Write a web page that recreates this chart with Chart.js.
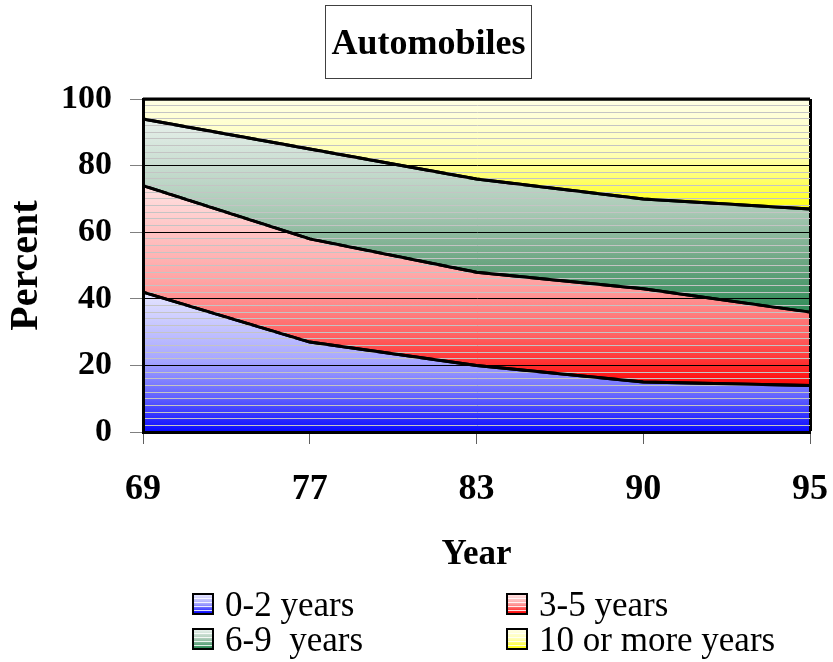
<!DOCTYPE html>
<html>
<head>
<meta charset="utf-8">
<script src="https://cdn.jsdelivr.net/npm/chart.js@4"></script>
<style>
  html, body { margin: 0; padding: 0; background: #fff; }
  #wrap { position: relative; width: 833px; height: 662px; overflow: hidden; }
  #c { position: absolute; left: 0; top: 0; }
  .title { position: absolute; left: 325px; top: 5px; width: 207px; height: 74px; box-sizing: border-box;
           border: 1px solid #404040; display: flex; align-items: center; justify-content: center;
           font: bold 36px "Liberation Serif", "Times New Roman", serif; color: #000; }
  .lg { position: absolute; font: 35px/35px "Liberation Serif", "Times New Roman", serif; color: #000; white-space: pre; }
  .sw { position: absolute; width: 22px; height: 22px; box-sizing: border-box; border: 2px solid #000; }
</style>
</head>
<body>
<div id="wrap">
  <canvas id="c" width="833" height="662"></canvas>
  <div class="title">Automobiles</div>
  <div id="legend"></div>
</div>
<script>
// ---- data ----
const years = ['69', '77', '83', '90', '95'];
const age0to2 = [42, 27, 20, 15, 14];
const age3to5 = [32, 31, 28, 28, 22];
const age6to9 = [20, 27, 28, 27, 31];
const age10plus = [6, 15, 24, 30, 33];
const seriesNames = ['0-2 years', '3-5 years', '6-9  years', '10 or more years'];
const yTickLabels = [0, 20, 40, 60, 80, 100];

// ---- styles ----
const series = [age0to2, age3to5, age6to9, age10plus];
const gradStops = [
  [[0, '#e6e6ff'], [0.5, '#a4a4ff'], [0.75, '#6262ff'], [1, '#0808ff']],
  [[0, '#ffe2e2'], [0.5, '#ffa0a0'], [0.75, '#ff6262'], [1, '#ff0808']],
  [[0, '#e8f1ec'], [0.47, '#aacab6'], [0.74, '#6ca682'], [1, '#2e8b57']],
  [[0, '#ffffe6'], [0.5, '#ffffb4'], [0.75, '#ffff66'], [1, '#ffff10']]
];

function cumulative(upto) {
  return years.map((_, i) => {
    let s = 0;
    for (let k = 0; k <= upto; k++) s += series[k][i];
    return s;
  });
}

function bandGradient(context, idx) {
  const chart = context.chart;
  const area = chart.chartArea;
  const stops = gradStops[idx];
  if (!area) return stops[2][1];
  const yScale = chart.scales.y;
  const topVal = Math.max(...cumulative(idx));
  const botVal = idx === 0 ? 0 : Math.min(...cumulative(idx - 1));
  const y0 = yScale.getPixelForValue(topVal);
  const y1 = yScale.getPixelForValue(botVal);
  const g = chart.ctx.createLinearGradient(0, y0, 0, y1);
  stops.forEach(([p, c]) => g.addColorStop(p, c));
  return g;
}

const datasets = series.map((vals, idx) => ({
  label: seriesNames[idx],
  data: vals,
  fill: idx === 0 ? 'origin' : '-1',
  backgroundColor: (ctx) => bandGradient(ctx, idx),
  borderColor: '#000',
  borderWidth: 3,
  pointRadius: 0,
  pointHoverRadius: 0,
  tension: 0
}));

const boldSerif = (size) => ({ family: '"Liberation Serif", "Times New Roman", serif', size: size, weight: 'bold' });
const isMajor = (c) => c.tick && yTickLabels.includes(c.tick.value);

// redraw the series boundary lines on top of the (front) grid
const linesOnTop = {
  id: 'linesOnTop',
  afterDraw(chart) {
    const ctx = chart.ctx;
    const a = chart.chartArea;
    ctx.save();
    ctx.beginPath();
    ctx.rect(a.left - 2, a.top - 2, a.right - a.left + 4, a.bottom - a.top + 4);
    ctx.clip();
    chart.data.datasets.forEach((_, i) => {
      const meta = chart.getDatasetMeta(i);
      if (meta && meta.dataset) meta.dataset.draw(ctx, a);
    });
    ctx.restore();
  }
};

new Chart(document.getElementById('c'), {
  type: 'line',
  data: { labels: years, datasets: datasets },
  plugins: [linesOnTop],
  options: {
    responsive: false,
    animation: false,
    layout: { padding: { top: 99, right: 23, left: 0, bottom: 0 } },
    plugins: { legend: { display: false }, tooltip: { enabled: false }, title: { display: false } },
    scales: {
      x: {
        type: 'category',
        offset: false,
        grid: {
          z: 1,
          offset: false,
          color: (c) => c.index === years.length - 1 ? '#000' : 'rgba(0,0,0,0)',
          lineWidth: (c) => c.index === years.length - 1 ? 3 : 1,
          tickLength: 12,
          tickColor: '#606060',
          tickWidth: 1
        },
        border: { color: '#000', width: 3, z: 2 },
        ticks: { padding: 24, color: '#000', font: boldSerif(36), maxRotation: 0, autoSkip: false },
        title: { display: true, text: 'Year', color: '#000', font: boldSerif(35), padding: { top: 0, bottom: 86 } },
        afterFit: (s) => { s.height = 230; s.paddingLeft = 0; s.paddingRight = 0; }
      },
      y: {
        stacked: true,
        min: 0,
        max: 100,
        ticks: {
          stepSize: 2,
          autoSkip: false,
          padding: 18,
          color: '#000',
          font: boldSerif(34),
          callback: (v) => yTickLabels.includes(v) ? String(v) : ''
        },
        grid: {
          z: 1,
          color: (c) => isMajor(c) ? '#000' : '#c4c4c4',
          lineWidth: 1,
          tickLength: 13,
          tickColor: (c) => isMajor(c) ? '#808080' : 'rgba(0,0,0,0)',
          tickWidth: 1
        },
        border: { color: '#000', width: 3, z: 2 },
        title: { display: true, text: 'Percent', color: '#000', font: boldSerif(40), padding: { top: 3, bottom: 0 } },
        afterFit: (s) => { s.width = 143; s.paddingTop = 0; s.paddingBottom = 0; }
      }
    }
  }
});

// ---- HTML legend ----
const legendPos = [
  { sx: 192, sy: 593, tx: 225, ty: 587 },
  { sx: 506, sy: 593, tx: 539, ty: 587 },
  { sx: 192, sy: 628, tx: 225, ty: 622 },
  { sx: 506, sy: 628, tx: 539, ty: 622 }
];
const legend = document.getElementById('legend');
seriesNames.forEach((name, i) => {
  const p = legendPos[i];
  const st = gradStops[i];
  const sw = document.createElement('div');
  sw.className = 'sw';
  sw.style.left = p.sx + 'px';
  sw.style.top = p.sy + 'px';
  sw.style.background = 'repeating-linear-gradient(to bottom, rgba(0,0,0,0) 0px, rgba(0,0,0,0) 3px, rgba(255,255,255,0.85) 3px, rgba(255,255,255,0.85) 4px), linear-gradient(to bottom, ' + st[0][1] + ', ' + st[1][1] + ', ' + st[st.length - 1][1] + ')';
  legend.appendChild(sw);
  const tx = document.createElement('div');
  tx.className = 'lg';
  tx.style.left = p.tx + 'px';
  tx.style.top = p.ty + 'px';
  tx.textContent = name;
  legend.appendChild(tx);
});
</script>
</body>
</html>
